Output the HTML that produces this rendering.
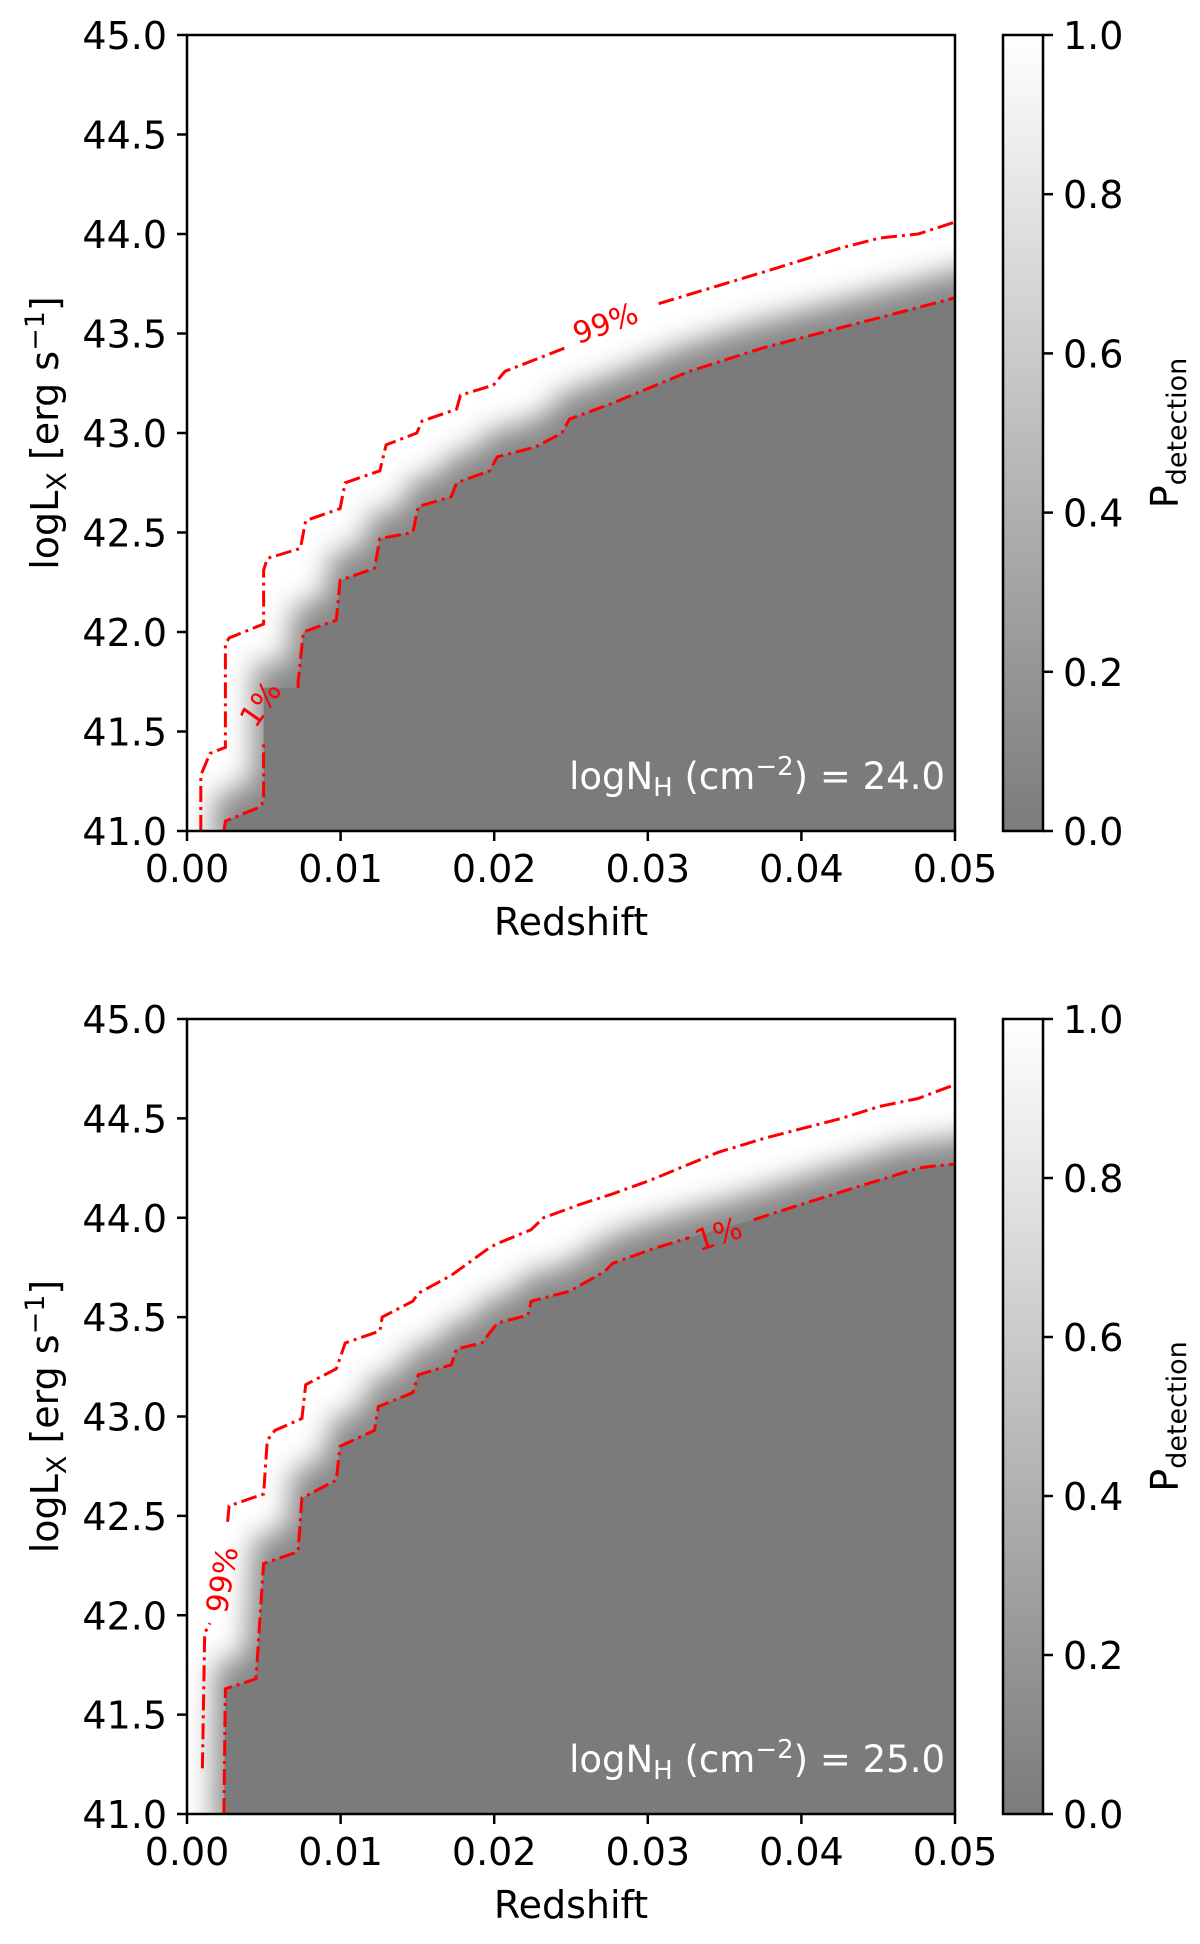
<!DOCTYPE html>
<html><head><meta charset="utf-8">
<style>
html,body{margin:0;padding:0;background:#fff;}
svg{display:block;font-family:"DejaVu Sans","Liberation Sans",sans-serif;}
</style></head>
<body>
<svg id="fig" width="1200" height="1944" viewBox="0 0 1200 1944" xmlns="http://www.w3.org/2000/svg">
<defs>
<linearGradient id="cbgrad" x1="0" y1="1" x2="0" y2="0">
<stop offset="0" stop-color="#7b7b7b"/><stop offset="1" stop-color="#ffffff"/>
</linearGradient>
<filter id="blur" x="-20%" y="-20%" width="140%" height="140%"><feGaussianBlur stdDeviation="14"/></filter>
<clipPath id="clipTop"><rect x="187" y="35" width="768" height="796"/></clipPath>
<clipPath id="clipBot"><rect x="187" y="1019" width="768" height="795"/></clipPath>
</defs>
</svg>
<script>
// ---- data (redshift, logLx); null = label gap ----
const xTicks = [0.00, 0.01, 0.02, 0.03, 0.04, 0.05];
const xTickLabels = ["0.00","0.01","0.02","0.03","0.04","0.05"];
const yTicks = [41.0, 41.5, 42.0, 42.5, 43.0, 43.5, 44.0, 44.5, 45.0];
const yTickLabels = ["41.0","41.5","42.0","42.5","43.0","43.5","44.0","44.5","45.0"];
const cbTicks = [0.0, 0.2, 0.4, 0.6, 0.8, 1.0];
const cbTickLabels = ["0.0","0.2","0.4","0.6","0.8","1.0"];
const nhValues = ["24.0", "25.0"];

const top99z = [0.0009,0.0009,0.0015,0.0025,0.0025,0.00274,0.00499,0.00499,0.00523,0.00738,0.00773,0.00997,0.0103,0.01256,0.01296,0.01496,0.0153,0.01755,0.0178,0.01994,0.0207,0.0227,0.0247,null,0.0307,0.0376,0.0401,0.0426,0.0451,0.0476,0.05];
const top99L = [41.0,41.28,41.39,41.42,41.94,41.97,42.04,42.31,42.37,42.42,42.56,42.62,42.75,42.81,42.94,43.0,43.06,43.12,43.19,43.24,43.31,43.37,43.43,null,43.65,43.81,43.87,43.93,43.98,44.0,44.06];
const top01z = [0.0024,0.0025,0.00474,0.00499,0.00499,null,0.00723,0.00723,0.00758,0.00972,0.00997,0.01221,0.01256,0.0147,0.01506,0.0172,0.01755,0.0197,0.0202,0.0227,0.0244,0.0249,0.0277,0.0302,0.0327,0.0376,0.0426,0.0476,0.05];
const top01L = [41.0,41.05,41.12,41.15,41.44,null,41.72,41.75,42.0,42.06,42.26,42.32,42.47,42.5,42.63,42.68,42.75,42.81,42.88,42.93,43.0,43.07,43.15,43.23,43.31,43.43,43.53,43.63,43.68];

const bot99z = [0.001,0.00115,0.0015,null,0.00264,0.00274,0.00499,0.00523,0.00573,0.00748,0.00773,0.00972,0.0103,0.01256,0.01271,0.0147,0.01506,0.0172,0.0197,0.0202,0.0224,0.0232,0.0257,0.0277,0.0302,0.0327,0.0346,0.0376,0.0401,0.0426,0.0451,0.0476,0.05];
const bot99L = [41.23,41.91,41.96,null,42.47,42.55,42.61,42.88,42.93,42.99,43.16,43.24,43.37,43.43,43.5,43.58,43.62,43.71,43.85,43.87,43.94,44.0,44.07,44.12,44.19,44.27,44.33,44.4,44.45,44.5,44.56,44.6,44.67];
const bot01z = [0.0024,0.0025,0.00449,0.00499,0.00723,0.00748,0.00972,0.00997,0.01221,0.01246,0.0147,0.01506,0.0172,0.01755,0.0192,0.0202,0.0222,0.0224,0.0249,0.0272,0.0277,0.0302,0.0327,null,0.0369,0.0401,0.0426,0.0451,0.0476,0.0486,0.05];
const bot01L = [41.0,41.63,41.68,42.26,42.32,42.59,42.68,42.85,42.93,43.05,43.12,43.21,43.26,43.34,43.37,43.47,43.51,43.58,43.63,43.73,43.77,43.84,43.9,null,43.99,44.07,44.13,44.19,44.25,44.26,44.27];

const NS = "http://www.w3.org/2000/svg";
const svg = document.getElementById("fig");
function mk(tag, attrs, parent) {
  const e = document.createElementNS(NS, tag);
  for (const k in attrs) e.setAttribute(k, attrs[k]);
  (parent || svg).appendChild(e);
  return e;
}

const panels = [
  {top:35, bot:831, clip:"clipTop", c99:[top99z,top99L], c01:[top01z,top01L], nh:nhValues[0],
   lab99:[606,325,-20], lab01:[262,705,-55], name:"top"},
  {top:1019, bot:1814, clip:"clipBot", c99:[bot99z,bot99L], c01:[bot01z,bot01L], nh:nhValues[1],
   lab99:[224,1580,-80], lab01:[719,1236,-18], name:"bottom"}
];
const X0 = 187, X1 = 955, CB0 = 1003, CB1 = 1043;

panels.forEach(p => {
  const xs = z => X0 + (z - 0) / 0.05 * (X1 - X0);
  const ys = L => p.bot - (L - 41) / 4 * (p.bot - p.top);
  const g = mk("g", {});
  
  

  const bg = mk("rect", {x:X0, y:p.top, width:X1-X0, height:p.bot-p.top, fill:"#ffffff"}, g);
  
  

  // fill polygon: across steep label gaps, step vertically (prev z, next L)
  const pts = [];
  const cz = p.c01[0], cL = p.c01[1];
  for (let i = 0; i < cz.length; i++) {
    if (cz[i] === null) {
      if (i > 0 && i + 1 < cz.length && cL[i+1] - cL[i-1] > 0.15) pts.push(xs(cz[i-1]) + "," + ys(cL[i+1]));
      continue;
    }
    pts.push(xs(cz[i]) + "," + ys(cL[i]));
  }
  const lastY = ys(cL[cL.length-1]);
  const firstZ = cz[0];
  pts.push((X1 + 40) + "," + (lastY - 10));
  pts.push((X1 + 40) + "," + (p.bot + 40));
  pts.push(xs(firstZ) + "," + (p.bot + 40));
  const cg = mk("g", {"clip-path":"url(#" + p.clip + ")"}, g);
  const soft = mk("polygon", {points:pts.join(" "), fill:"#7b7b7b", filter:"url(#blur)", transform:"translate(-10,-24)", opacity:0.9}, cg);
  
  
  const hard = mk("polygon", {points:pts.join(" "), fill:"#7b7b7b"}, cg);
  
  

  [[p.c99,"contour-99"],[p.c01,"contour-1"]].forEach(([c,nm]) => {
    let d = "", pen = false;
    c[0].forEach((z,i) => {
      if (z === null) { pen = false; return; }
      d += (pen ? "L" : "M") + xs(z).toFixed(1) + "," + ys(c[1][i]).toFixed(1);
      pen = true;
    });
    const path = mk("path", {d:d, fill:"none", stroke:"#ff0000", "stroke-width":3, "stroke-dasharray":"16,5,3,5"}, cg);
    
    
  });

  [[p.lab99,"99%","contour-99-label"],[p.lab01,"1%","contour-1-label"]].forEach(([l,t,nm]) => {
    const tx = mk("text", {x:l[0], y:l[1], fill:"#ff0000", "font-size":30, "text-anchor":"middle", "dominant-baseline":"middle", transform:"rotate(" + l[2] + " " + l[0] + " " + l[1] + ")"}, g);
    tx.textContent = t;
    
    
  });

  const fr = mk("rect", {x:X0, y:p.top, width:X1-X0, height:p.bot-p.top, fill:"none", stroke:"#000", "stroke-width":2.5}, g);
  
  

  xTicks.forEach((t,i) => {
    const x = xs(t);
    const tk = mk("line", {x1:x, x2:x, y1:p.bot, y2:p.bot+10, stroke:"#000", "stroke-width":2.5}, g);
    
    
    const tl = mk("text", {x:x, y:p.bot+51, "font-size":38, "text-anchor":"middle"}, g);
    tl.textContent = xTickLabels[i];
    
    
  });
  yTicks.forEach((t,i) => {
    const y = ys(t);
    const tk = mk("line", {x1:X0-10, x2:X0, y1:y, y2:y, stroke:"#000", "stroke-width":2.5}, g);
    
    
    const tl = mk("text", {x:167, y:y+14, "font-size":38, "text-anchor":"end"}, g);
    tl.textContent = yTickLabels[i];
    
    
  });

  const xt = mk("text", {x:(X0+X1)/2, y:p.bot+104, "font-size":38, "text-anchor":"middle"}, g);
  xt.textContent = "Redshift";
  
  
  const cy = (p.top+p.bot)/2;
  const yt = mk("text", {x:58, y:cy, "font-size":38, "text-anchor":"middle", transform:"rotate(-90 58 " + cy + ")"}, g);
  yt.innerHTML = 'logL<tspan font-size="27" dy="8">X</tspan><tspan dy="-8"> [erg s</tspan><tspan font-size="27" dy="-14">−1</tspan><tspan dy="14">]</tspan>';
  
  

  const an = mk("text", {x:945, y:p.bot-42, "font-size":37, fill:"#ffffff", "text-anchor":"end"}, g);
  an.innerHTML = 'logN<tspan font-size="26" dy="7">H</tspan><tspan dy="-7"> (cm</tspan><tspan font-size="26" dy="-14">−2</tspan><tspan dy="14">) = ' + p.nh + '</tspan>';
  
  

  const cb = mk("rect", {x:CB0, y:p.top, width:CB1-CB0, height:p.bot-p.top, fill:"url(#cbgrad)", stroke:"#000", "stroke-width":2.5}, g);
  
  
  cbTicks.forEach((t,i) => {
    const y = p.bot - t * (p.bot - p.top);
    const tk = mk("line", {x1:CB1, x2:CB1+10, y1:y, y2:y, stroke:"#000", "stroke-width":2.5}, g);
    
    
    const tl = mk("text", {x:1063, y:y+14, "font-size":38}, g);
    tl.textContent = cbTickLabels[i];
    
    
  });
  const ct = mk("text", {x:1178, y:cy, "font-size":38, "text-anchor":"middle", transform:"rotate(-90 1178 " + cy + ")"}, g);
  ct.innerHTML = 'P<tspan font-size="27" dy="8">detection</tspan>';
  
  
});
</script>
</body></html>
